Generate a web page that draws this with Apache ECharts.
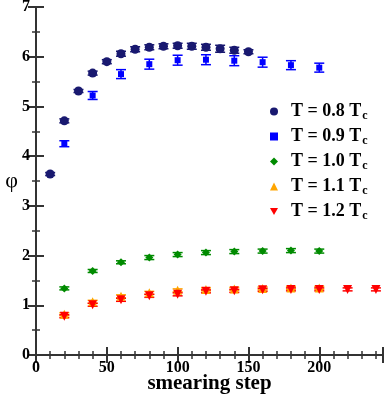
<!DOCTYPE html>
<html>
<head>
<meta charset="utf-8">
<script src="https://cdn.jsdelivr.net/npm/echarts@6/dist/echarts.min.js"></script>
<style>
  html, body { margin: 0; padding: 0; background: #fff; }
  #chart { width: 385px; height: 399px; }
</style>
</head>
<body>
<div id="chart"></div>
<script>
  // smearing steps and phi values
  var steps08 = [10, 20, 30, 40, 50, 60, 70, 80, 90, 100, 110, 120, 130, 140, 150];
  var phi08 = [3.64, 4.71, 5.31, 5.67, 5.90, 6.06, 6.15, 6.19, 6.21, 6.22, 6.21, 6.19, 6.16, 6.13, 6.10];
  var err08 = [0.03, 0.04, 0.03, 0.04, 0.04, 0.05, 0.05, 0.05, 0.05, 0.05, 0.06, 0.06, 0.07, 0.06, 0.04];

  var steps09 = [20, 40, 60, 80, 100, 120, 140, 160, 180, 200];
  var phi09 = [4.25, 5.22, 5.65, 5.85, 5.93, 5.94, 5.92, 5.89, 5.83, 5.78];
  var err09 = [0.06, 0.08, 0.09, 0.1, 0.1, 0.1, 0.1, 0.1, 0.09, 0.09];

  var steps10 = [20, 40, 60, 80, 100, 120, 140, 160, 180, 200];
  var phi10 = [1.34, 1.69, 1.865, 1.96, 2.02, 2.06, 2.08, 2.09, 2.10, 2.09];
  var err10 = [0.03, 0.03, 0.03, 0.04, 0.04, 0.04, 0.04, 0.04, 0.04, 0.04];

  var steps11 = [20, 40, 60, 80, 100, 120, 140, 160, 180, 200];
  var phi11 = [0.82, 1.07, 1.18, 1.25, 1.30, 1.32, 1.33, 1.34, 1.35, 1.35];
  var err11 = [0.03, 0.03, 0.03, 0.03, 0.03, 0.03, 0.03, 0.03, 0.03, 0.03];

  var steps12 = [20, 40, 60, 80, 100, 120, 140, 160, 180, 200, 220, 240];
  var phi12 = [0.78, 1.01, 1.11, 1.19, 1.22, 1.28, 1.29, 1.31, 1.32, 1.32, 1.32, 1.32];
  var err12 = [0.03, 0.03, 0.03, 0.03, 0.03, 0.03, 0.03, 0.03, 0.03, 0.03, 0.03, 0.03];

  var names = ['T = 0.8 Tc', 'T = 0.9 Tc', 'T = 1.0 Tc', 'T = 1.1 Tc', 'T = 1.2 Tc'];
  var colors = ['#191970', '#0000ff', '#008b00', '#ffa500', '#ff0000'];
  var symbols = ['circle', 'rect', 'diamond', 'triangle', 'path://M0,0 L10,0 L5,8.66 Z'];
  var sizes = [9, 6, 8, 9, 9];

  var allSteps = [steps08, steps09, steps10, steps11, steps12];
  var allPhi = [phi08, phi09, phi10, phi11, phi12];
  var allErr = [err08, err09, err10, err11, err12];

  var font = 'Liberation Serif, Times New Roman, serif';

  var chart = echarts.init(document.getElementById('chart'));
  var series = [];
  for (var i = 0; i < names.length; i++) {
    var pts = [];
    var bars = [];
    for (var j = 0; j < allSteps[i].length; j++) {
      pts.push([allSteps[i][j], allPhi[i][j]]);
      bars.push([allSteps[i][j], allPhi[i][j] - allErr[i][j], allPhi[i][j] + allErr[i][j]]);
    }
    series.push({
      name: 'err' + i,
      type: 'custom',
      z: 1,
      silent: true,
      data: bars,
      renderItem: (function (col) {
        return function (params, api) {
          var lo = api.coord([api.value(0), api.value(1)]);
          var hi = api.coord([api.value(0), api.value(2)]);
          var w = 5;
          var st = { stroke: col, lineWidth: 1.5 };
          return {
            type: 'group',
            children: [
              { type: 'line', shape: { x1: lo[0], y1: lo[1], x2: hi[0], y2: hi[1] }, style: st },
              { type: 'line', shape: { x1: lo[0] - w, y1: lo[1], x2: lo[0] + w, y2: lo[1] }, style: st },
              { type: 'line', shape: { x1: hi[0] - w, y1: hi[1], x2: hi[0] + w, y2: hi[1] }, style: st }
            ]
          };
        };
      })(colors[i])
    });
    series.push({
      name: names[i],
      type: 'scatter',
      z: 2,
      symbol: symbols[i],
      symbolSize: sizes[i],
      itemStyle: { color: colors[i], opacity: 1 },
      data: pts
    });
  }

  var axisLine = { show: true, lineStyle: { color: '#333', width: 2 } };
  var majTick = { show: true, inside: true, length: 8, lineStyle: { color: '#333', width: 2 } };
  var minTick = function (n) {
    return { show: true, splitNumber: n, length: 4, lineStyle: { color: '#333', width: 1.5 } };
  };

  chart.setOption({
    animation: false,
    grid: { left: 36, top: 7, right: 2, bottom: 44, containLabel: false, outerBoundsMode: 'none' },
    legend: {
      data: names,
      orient: 'vertical',
      left: 265,
      top: 96,
      itemGap: 4,
      itemWidth: 8,
      itemHeight: 8,
      formatter: function (name) {
        return '{g| }{m|' + name.slice(0, -1) + '}{s|c}';
      },
      textStyle: {
        rich: {
          g: { width: 8, fontSize: 12, lineHeight: 12 },
          m: { fontFamily: font, fontSize: 18, fontWeight: 'bold', color: '#000', lineHeight: 18 },
          s: { fontFamily: font, fontSize: 12, fontWeight: 'bold', color: '#000', lineHeight: 12, padding: [9, 0, 0, 1] }
        }
      }
    },
    xAxis: [{
      type: 'value',
      min: 0,
      max: 245,
      interval: 50,
      name: 'smearing step',
      nameLocation: 'middle',
      nameGap: 18,
      nameMoveOverlap: false,
      nameTextStyle: { fontFamily: font, fontSize: 21, fontWeight: 'bold', color: '#000' },
      axisLine: axisLine,
      axisTick: majTick,
      minorTick: minTick(5),
      splitLine: { show: false },
      axisLabel: { fontFamily: font, fontSize: 16, fontWeight: 'bold', color: '#000', margin: 5, showMaxLabel: false }
    }, {
      type: 'value',
      position: 'top',
      min: 0,
      max: 245,
      interval: 50,
      axisLine: axisLine,
      axisTick: majTick,
      minorTick: minTick(5),
      splitLine: { show: false },
      axisLabel: { show: false }
    }],
    yAxis: [{
      type: 'value',
      min: 0,
      max: 7,
      interval: 1,
      name: 'φ',
      nameLocation: 'middle',
      nameGap: 18,
      nameMoveOverlap: false,
      nameRotate: 0,
      nameTextStyle: { fontFamily: font, fontSize: 22, color: '#000' },
      axisLine: axisLine,
      axisTick: majTick,
      minorTick: minTick(2),
      splitLine: { show: false },
      axisLabel: { fontFamily: font, fontSize: 16, fontWeight: 'bold', color: '#000', margin: 6 }
    }, {
      type: 'value',
      position: 'right',
      min: 0,
      max: 7,
      interval: 1,
      axisLine: axisLine,
      axisTick: majTick,
      minorTick: minTick(2),
      splitLine: { show: false },
      axisLabel: { show: false }
    }],
    series: series
  });
</script>
</body>
</html>
